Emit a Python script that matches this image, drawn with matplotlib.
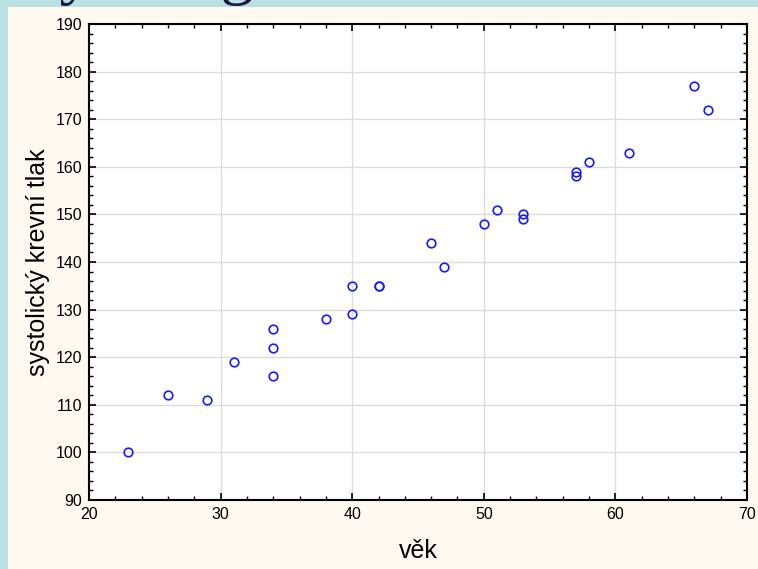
import matplotlib.pyplot as plt
from matplotlib.patches import Rectangle
from matplotlib.ticker import MultipleLocator

# age and systolic blood pressure of the patients
vek = [23, 26, 29, 31, 34, 34, 34, 38, 40, 40, 42, 42,
       46, 47, 50, 51, 53, 53, 57, 57, 58, 61, 66, 67]
tlak = [100, 112, 111, 119, 126, 122, 116, 128, 135, 129, 135, 135,
        144, 139, 148, 151, 150, 149, 159, 158, 161, 163, 177, 172]

plt.rcParams['font.family'] = ['Liberation Sans', 'DejaVu Sans']

fig = plt.figure(figsize=(7.58, 5.69), dpi=100)
fig.patch.set_facecolor('#b9e0e3')

# cream slide panel behind the axes
fig.patches.append(Rectangle((8 / 758, 0), 1, 1 - 7 / 569,
                             transform=fig.transFigure,
                             facecolor='#fff9ef', edgecolor='none', zorder=-1))

# slide heading, mostly above the top edge and under the panel
fig.text(-0.092, 1.014, 'Analýza regrese', fontsize=48,
         family='Liberation Serif', color='#1a1a40', va='baseline', zorder=-2)

ax = fig.add_axes([89 / 758, 69 / 569, 658 / 758, 476 / 569])
ax.set_facecolor('white')
ax.plot(vek, tlak, 'o', markerfacecolor='none', markeredgecolor='#1a1aff',
        markersize=6.2, markeredgewidth=1.2, zorder=3)

ax.set_xlim(20, 70)
ax.set_ylim(90, 190)
ax.xaxis.set_major_locator(MultipleLocator(10))
ax.xaxis.set_minor_locator(MultipleLocator(2))
ax.yaxis.set_major_locator(MultipleLocator(10))
ax.yaxis.set_minor_locator(MultipleLocator(2))
ax.grid(True, which='major', color='#dcdcdc', linewidth=1)
ax.set_axisbelow(True)

ax.tick_params(which='both', direction='in', top=True, right=True,
               colors='black', labelsize=11.5)
ax.tick_params(which='major', length=5, width=1.2, pad=5)
ax.tick_params(which='minor', length=3, width=1)
for s in ax.spines.values():
    s.set_linewidth(1.5)
    s.set_color('black')

ax.set_xlabel('věk', fontsize=18, labelpad=12)
ax.set_ylabel('systolický krevní tlak', fontsize=18, labelpad=4)

fig.savefig('out.png', dpi=100, facecolor=fig.get_facecolor())
